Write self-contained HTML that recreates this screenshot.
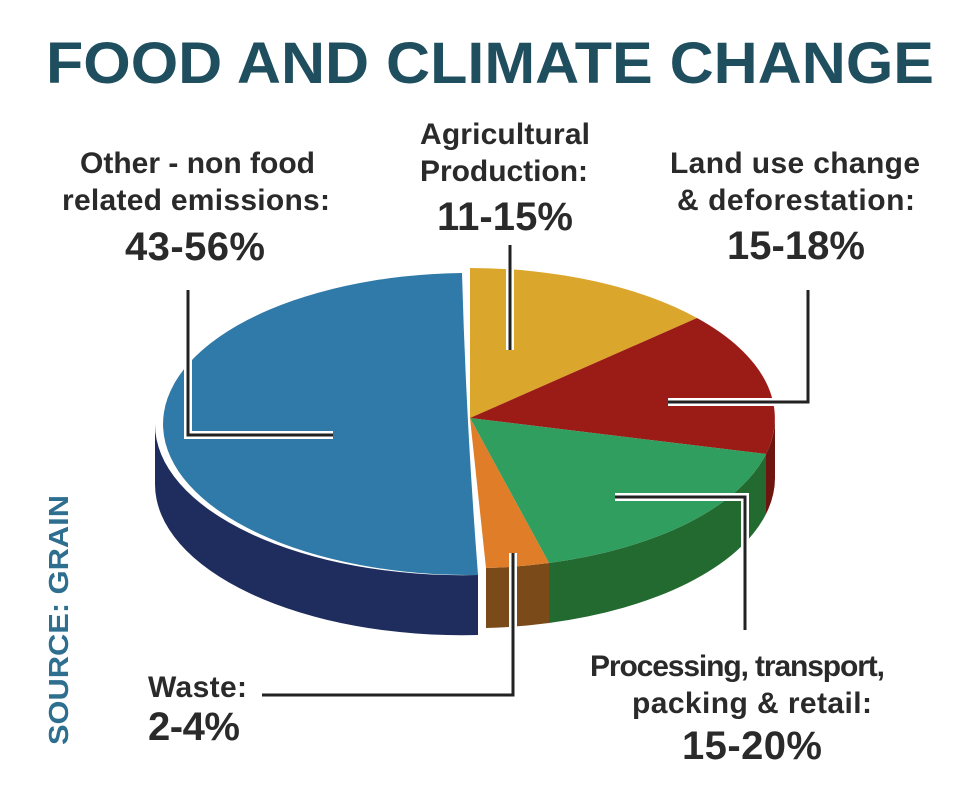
<!DOCTYPE html>
<html><head><meta charset="utf-8"><style>
html,body{margin:0;padding:0;background:#fff}
svg{display:block}
text{font-family:"Liberation Sans",Arial,sans-serif;font-weight:bold}
</style></head><body>
<svg width="980" height="792" viewBox="0 0 980 792" xmlns="http://www.w3.org/2000/svg">
<rect width="980" height="792" fill="#fff"/>
<text x="490" y="83" text-anchor="middle" font-size="58" fill="#1f4e5f" textLength="888" lengthAdjust="spacingAndGlyphs">FOOD AND CLIMATE CHANGE</text>

<path d="M155,424 A307 151 0 0 0 478,575 L478,635 A307 151 0 0 1 155,484 Z" fill="#1f2d5e"/>
<path d="M775,418 A305 150 0 0 1 766,454 L766,514 A305 150 0 0 0 775,478 Z" fill="#6e1510"/>
<path d="M766,454 A305 150 0 0 1 549,563 L549,623 A305 150 0 0 0 766,514 Z" fill="#236a30"/>
<path d="M549,563 A305 150 0 0 1 486,568 L486,628 A305 150 0 0 0 549,623 Z" fill="#7a4a18"/>

<path d="M462,273 A307 151 0 0 0 478,575 Q466,420 462,273 Z" fill="#2f7aa8"/>
<path d="M470,418 L470,268 A305 150 0 0 1 697,318 Z" fill="#dba62c"/>
<path d="M470,418 L697,318 A305 150 0 0 1 766,454 Z" fill="#9b1c16"/>
<path d="M470,418 L766,454 A305 150 0 0 1 549,563 Z" fill="#2f9e5e"/>
<path d="M470,418 L549,563 A305 150 0 0 1 486,568 Z" fill="#e07d28"/>

<g fill="none" stroke-linejoin="miter">
<g stroke="#fff" stroke-width="8">
<path d="M188,290 V435 H333"/>
<path d="M510,245 V350"/>
<path d="M808,290 V402 H668"/>
<path d="M615,497 H745 V630"/>
<path d="M513,553 V695 H262"/>
</g>
<g stroke="#222" stroke-width="3">
<path d="M188,290 V435 H333"/>
<path d="M510,245 V350"/>
<path d="M808,290 V402 H668"/>
<path d="M615,497 H745 V630"/>
<path d="M513,553 V695 H262"/>
</g>
</g>

<g fill="#2a2a2a" lengthAdjust="spacingAndGlyphs">
<text x="80" y="173" font-size="30" textLength="235">Other - non food</text>
<text x="62" y="210" font-size="30" textLength="268">related emissions:</text>
<text x="125" y="260" font-size="40" textLength="140">43-56%</text>
<text x="420" y="144" font-size="30" textLength="170">Agricultural</text>
<text x="420" y="181" font-size="30" textLength="168">Production:</text>
<text x="437" y="230" font-size="40" textLength="136">11-15%</text>
<text x="670" y="173" font-size="30" textLength="250">Land use change</text>
<text x="677" y="210" font-size="30" textLength="238">&amp; deforestation:</text>
<text x="727" y="259" font-size="40" textLength="138">15-18%</text>
<text x="590" y="676" font-size="30" textLength="295">Processing, transport,</text>
<text x="632" y="713" font-size="30" textLength="240">packing &amp; retail:</text>
<text x="682" y="759" font-size="40" textLength="140">15-20%</text>
<text x="148" y="697" font-size="30" textLength="99">Waste:</text>
<text x="148" y="740" font-size="40" textLength="92">2-4%</text>
</g>
<text transform="translate(68,745) rotate(-90)" font-size="28" fill="#2e6f8f" textLength="250" lengthAdjust="spacingAndGlyphs">SOURCE: GRAIN</text>
</svg>
</body></html>
